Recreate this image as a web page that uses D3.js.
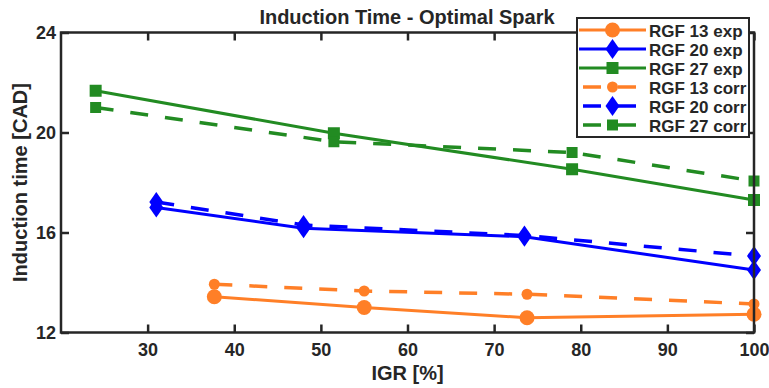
<!DOCTYPE html>
<html><head><meta charset="utf-8">
<script src="https://cdn.jsdelivr.net/npm/d3@7"></script>
<style>body{margin:0;background:#fff;} text{font-family:"Liberation Sans",Arial,sans-serif;font-weight:bold;fill:#262626;}</style>
</head><body><svg id="c" width="769" height="388"></svg>
<script>
const igr13 = [37.7, 55, 73.8, 100];
const exp13 = [13.43, 13.0, 12.59, 12.73];
const corr13 = [13.93, 13.66, 13.53, 13.14];
const igr20 = [31, 48, 73.5, 100];
const exp20 = [17.0, 16.17, 15.83, 14.5];
const corr20 = [17.22, 16.3, 15.88, 15.06];
const igr27 = [24, 51.5, 79, 100];
const exp27 = [21.67, 19.97, 18.53, 17.3];
const corr27 = [21.0, 19.63, 19.2, 18.06];
const xTicks = [30, 40, 50, 60, 70, 80, 90, 100];
const yTicks = [12, 16, 20, 24];
const seriesNames = ["RGF 13 exp","RGF 20 exp","RGF 27 exp","RGF 13 corr","RGF 20 corr","RGF 27 corr"];

const colors = {o:"#FF7F27", b:"#0000FF", g:"#228B22"};
const series = [
  {name:seriesNames[0], x:igr13, y:exp13, c:colors.o, m:"circle", dash:false},
  {name:seriesNames[1], x:igr20, y:exp20, c:colors.b, m:"diamond", dash:false},
  {name:seriesNames[2], x:igr27, y:exp27, c:colors.g, m:"square", dash:false},
  {name:seriesNames[3], x:igr13, y:corr13, c:colors.o, m:"circle", dash:true},
  {name:seriesNames[4], x:igr20, y:corr20, c:colors.b, m:"diamond", dash:true},
  {name:seriesNames[5], x:igr27, y:corr27, c:colors.g, m:"square", dash:true}
];

const svg = d3.select("#c");
const L=61, R=754, T=32.5, B=332.5;
const x = d3.scaleLinear().domain([20,100]).range([L,R]);
const y = d3.scaleLinear().domain([12,24]).range([B,T]);

function marker(g, m, cx, cy, big, color){
  if(m==="circle"){
    g.append("circle").attr("cx",cx).attr("cy",cy).attr("r", big?7.5:5.5).attr("fill",color);
  } else if(m==="diamond"){
    const h = 10, w = 7;
    g.append("path").attr("d",`M${cx},${cy-h}L${cx+w},${cy}L${cx},${cy+h}L${cx-w},${cy}Z`).attr("fill",color);
  } else {
    const s = big?12:11;
    g.append("rect").attr("x",cx-s/2).attr("y",cy-s/2).attr("width",s).attr("height",s).attr("fill",color);
  }
}

const plot = svg.append("g");
const line = d3.line();
series.forEach(s=>{
  const pts = s.x.map((v,i)=>[x(v), y(s.y[i])]);
  plot.append("path").attr("d", line(pts)).attr("fill","none").attr("stroke", s.c)
    .attr("stroke-width", s.dash?3.5:3).attr("stroke-dasharray", s.dash?"18,17":null);
  pts.forEach(p=>marker(plot, s.m, p[0], p[1], !s.dash, s.c));
});

const axCol = "#262626";
const gx = svg.append("g").attr("transform",`translate(0,${B})`)
  .call(d3.axisBottom(x).tickValues(xTicks).tickSize(-8).tickPadding(11).tickFormat(d3.format("d")));
const gxt = svg.append("g").attr("transform",`translate(0,${T})`)
  .call(d3.axisTop(x).tickValues(xTicks).tickSize(-8).tickFormat(""));
const gy = svg.append("g").attr("transform",`translate(${L},0)`)
  .call(d3.axisLeft(y).tickValues(yTicks).tickSize(-8).tickPadding(5).tickFormat(d3.format("d")));
const gyr = svg.append("g").attr("transform",`translate(${R},0)`)
  .call(d3.axisRight(y).tickValues(yTicks).tickSize(-8).tickFormat(""));
[gx,gxt,gy,gyr].forEach(g=>{
  g.select(".domain").remove();
  g.selectAll(".tick line").attr("stroke",axCol).attr("stroke-width",2.5);
  g.selectAll(".tick text").attr("font-size",18).style("font-weight","bold").attr("fill",axCol)
    .style("font-family","'Liberation Sans',Arial,sans-serif");
});
svg.append("rect").attr("x",L).attr("y",T).attr("width",R-L).attr("height",B-T)
  .attr("fill","none").attr("stroke",axCol).attr("stroke-width",2.5);

svg.append("text").attr("x",407).attr("y",24).attr("text-anchor","middle").attr("font-size",20).attr("fill","#000").text("Induction Time - Optimal Spark");
svg.append("text").attr("x",(L+R)/2).attr("y",380).attr("text-anchor","middle").attr("font-size",20).text("IGR [%]");
svg.append("text").attr("transform",`translate(27,${(T+B)/2}) rotate(-90)`).attr("text-anchor","middle").attr("font-size",20).text("Induction time [CAD]");

const lg = svg.append("g");
lg.append("rect").attr("x",577).attr("y",18).attr("width",172).attr("height",119).attr("fill","#fff").attr("stroke",axCol).attr("stroke-width",2);
series.forEach((s,i)=>{
  const cy = 30 + i*19;
  lg.append("line").attr("x1",579).attr("x2",646).attr("y1",cy).attr("y2",cy).attr("stroke",s.c)
    .attr("stroke-width",s.dash?3.5:3).attr("stroke-dasharray", s.dash?"18,17":null).attr("stroke-dashoffset", s.dash?-4:0);
  marker(lg, s.m, 612.5, cy, !s.dash, s.c);
  lg.append("text").attr("x",649).attr("y",cy+6.5).attr("font-size",17).attr("fill","#000").text(s.name);
});
</script></body></html>
